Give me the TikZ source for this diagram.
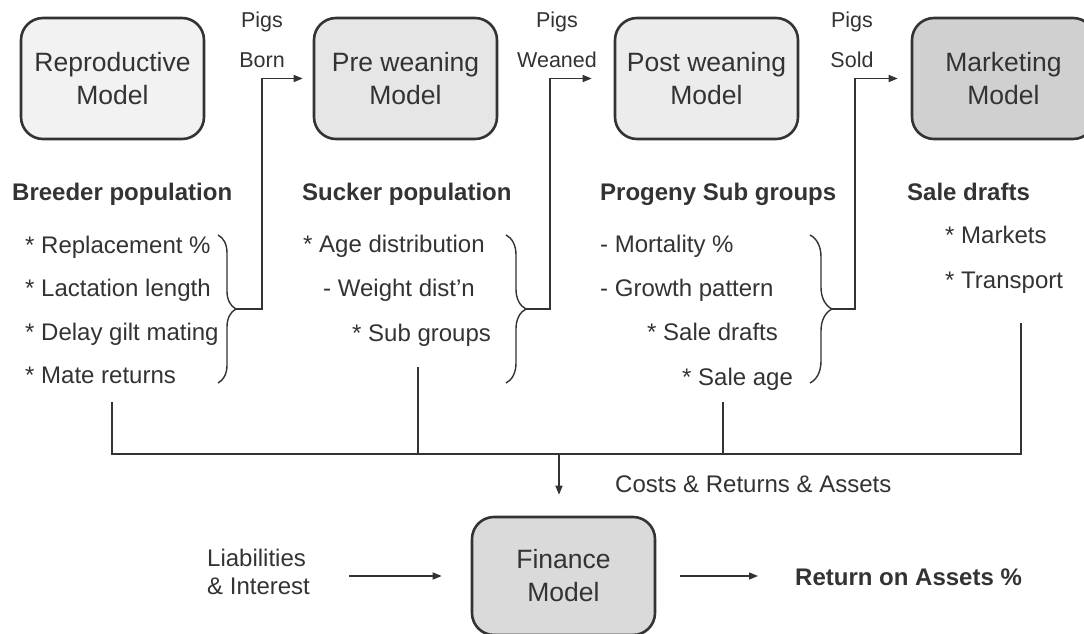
\documentclass[tikz,border=0pt]{standalone}
\usepackage{fontspec}
\setmainfont{Liberation Sans}
\usepackage{tikz}
\usetikzlibrary{arrows.meta,positioning,decorations.pathreplacing}
\definecolor{ink}{HTML}{333333}
\definecolor{reprofill}{HTML}{F2F2F2}
\definecolor{prefill}{HTML}{E6E6E6}
\definecolor{postfill}{HTML}{ECECEC}
\definecolor{mktfill}{HTML}{D0D0D0}
\definecolor{finfill}{HTML}{DADADA}
\tikzset{
  mbox/.style = {rounded corners=22pt, draw=ink, line width=2.6pt, align=center,
                 minimum width=183pt, minimum height=121pt, inner sep=0pt, text=ink,
                 font=\fontsize{26.5}{33}\selectfont},
  txt/.style  = {anchor=base west, inner sep=0pt, text=ink, font=\fontsize{24}{28.5}\selectfont},
  hdr/.style  = {txt, font=\fontsize{24}{28.5}\selectfont\bfseries},
  lbl/.style  = {anchor=south, inner sep=0pt, align=center, text=ink,
                 font=\fontsize{21.5}{40}\selectfont},
  ln/.style   = {draw=ink, line width=1.4pt},
  ar/.style   = {ln, -{Triangle[length=9pt,width=7pt]}},
  brc/.style  = {ln, decorate, decoration={brace, amplitude=#1}},
}

\begin{document}
\begin{tikzpicture}[x=1pt, y=-1pt]
  \fill[white] (0,0) rectangle (1084,634);
  \useasboundingbox (0,0) rectangle (1084,634);
  \node[mbox, fill=reprofill] (repro) at (112.5,78.5) {Reproductive\\Model};
  \node[mbox, fill=prefill] (prewean) at (405.5,78.5) {Pre weaning\\Model};
  \node[mbox, fill=postfill] (postwean) at (706.5,78.5) {Post weaning\\Model};
  \node[mbox, fill=mktfill] (market) at (1003.5,78.5) {Marketing\\Model};
  \node[mbox, fill=finfill, minimum height=118pt] (finance) at (563.5,576) {Finance\\Model};
  \node[hdr] (breeder) at (12,200) {Breeder population};
  \node[hdr] (sucker) at (302,200) {Sucker population};
  \node[hdr] (progeny) at (600,200) {Progeny Sub groups};
  \node[hdr] (drafts) at (907,200) {Sale drafts};
  \foreach \t/\px/\py [count=\i] in {{* Replacement \%}/25/253, {* Lactation length}/25/296.5,
      {* Delay gilt mating}/25/340, {* Mate returns}/25/383.5}
    \node[txt] (brd\i) at (\px,\py) {\t};
  \foreach \t/\px/\py [count=\i] in {{* Age distribution}/303/252, {- Weight dist'n}/323/296.5,
      {* Sub groups}/352/341}
    \node[txt] (suc\i) at (\px,\py) {\t};
  \foreach \t/\px/\py [count=\i] in {{- Mortality \%}/600/252, {- Growth pattern}/600/296.5,
      {* Sale drafts}/647/340, {* Sale age}/682/385}
    \node[txt] (prg\i) at (\px,\py) {\t};
  \foreach \t/\px/\py [count=\i] in {{* Markets}/945/243, {* Transport}/945/288}
    \node[txt] (sal\i) at (\px,\py) {\t};
  \draw[brc=18pt] (218,235) -- (218,383);
  \draw[brc=20pt] (506,235) -- (506,383);
  \draw[brc=22pt] (810,235) -- (810,383);
  \coordinate (tipA) at (236,309); \coordinate (tipB) at (526,309); \coordinate (tipC) at (832,309);
  \draw[ar, shorten >=10pt] (tipA) -- ++(26,0) |- (prewean.west);
  \draw[ar, shorten >=22pt] (tipB) -- ++(24,0) |- (postwean.west);
  \draw[ar, shorten >=13pt] (tipC) -- ++(23,0) |- (market.west);
  \node[lbl] (born) at (262,68) {Pigs\\Born};
  \node[lbl] (weaned) at (557,68) {Pigs\\Weaned};
  \node[lbl] (sold) at (852,68) {Pigs\\Sold};
  \coordinate (dropA) at (112,402); \coordinate (dropB) at (418,367);
  \coordinate (dropC) at (723,402); \coordinate (dropD) at (1021,323);
  \coordinate (bus) at (559,454);
  \draw[ln] (dropA) |- (bus) -| (dropD);
  \draw[ln] (dropB) -- (dropB |- bus); \draw[ln] (dropC) -- (dropC |- bus);
  \draw[ar, shorten >=21pt] (bus) -- (bus |- finance.north);
  \node[txt] (costs) at (615,492) {Costs \& Returns \& Assets};
  \node[txt, anchor=south west, align=left] (liab) at (207,595) {Liabilities\\\& Interest};
  \node[hdr] (roa) at (795,585) {Return on Assets \%};
  \draw[ar, shorten <=39pt, shorten >=29pt] (liab.east |- finance.west) -- (finance.west);
  \draw[ar, shorten <=24pt, shorten >=37pt] (finance.east) -- (finance.east -| roa.west);
\end{tikzpicture}
\end{document}
